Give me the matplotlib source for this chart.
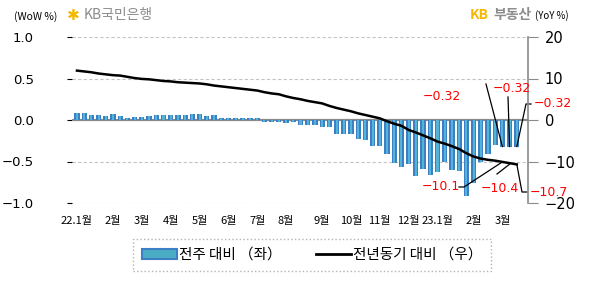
import matplotlib
matplotlib.use("Agg")
import numpy as np
import matplotlib.pyplot as plt
from matplotlib.patches import Patch
from matplotlib.lines import Line2D

plt.rcParams['font.family'] = ['Noto Sans CJK KR', 'DejaVu Sans']
plt.rcParams['axes.unicode_minus'] = True

#%% data
wow = [0.08, 0.09, 0.06, 0.06, 0.05, 0.07, 0.05, 0.03, 0.04, 0.04,
       0.05, 0.06, 0.06, 0.06, 0.06, 0.06, 0.07, 0.07, 0.05, 0.06,
       0.03, 0.03, 0.03, 0.02, 0.02, 0.03, -0.02, -0.02, -0.03, -0.04,
       -0.02, -0.06, -0.06, -0.06, -0.08, -0.08, -0.17, -0.17, -0.17, -0.23,
       -0.24, -0.31, -0.31, -0.41, -0.52, -0.57, -0.53, -0.68, -0.59, -0.66,
       -0.63, -0.51, -0.60, -0.61, -0.91, -0.76, -0.51, -0.41, -0.30, -0.32,
       -0.32, -0.32]
yoy = [11.9, 11.7, 11.5, 11.2, 11.0, 10.8, 10.7, 10.4, 10.1, 9.9,
       9.8, 9.6, 9.4, 9.3, 9.1, 9.0, 8.9, 8.8, 8.6, 8.3,
       8.1, 7.9, 7.7, 7.5, 7.3, 7.1, 6.7, 6.4, 6.2, 5.7,
       5.3, 5.0, 4.6, 4.3, 4.0, 3.4, 2.9, 2.5, 2.1, 1.6,
       1.2, 0.8, 0.4, -0.3, -0.9, -1.4, -2.4, -3.0, -3.7, -4.4,
       -5.2, -5.7, -6.3, -7.0, -8.0, -8.8, -9.3, -9.6, -9.8, -10.1,
       -10.4, -10.7]
tick_pos = [0, 5, 9, 13, 17, 21, 25, 29, 34, 38, 42, 46, 50, 55, 59]
tick_labels = ['22.1월', '2월', '3월', '4월', '5월', '6월', '7월', '8월',
               '9월', '10월', '11월', '12월', '23.1월', '2월', '3월']
left_ticks = [-1.0, -0.5, 0.0, 0.5, 1.0]
right_ticks = [-20, -10, 0, 10, 20]

W, H = 605, 281
num_font = ['DejaVu Sans']

def px(xp, yp, axis):
    # figure pixel (top-left origin) -> data coords of given axis
    return axis.transData.inverted().transform((xp, H - yp))

#%% figure
fig = plt.figure(figsize=(W / 100, H / 100), dpi=100)
ax = fig.add_axes([72 / W, 1 - 203 / H, 456 / W, 166 / H])
x = np.arange(len(wow))

ax.bar(x, wow, width=0.72, color='#3d7fc4', zorder=3)
ax.bar(x, wow, width=0.28, color='#52b4d8', zorder=4)
ax.set_xlim(-0.69, 62.55)
ax.set_ylim(-1, 1)
for v in [-1, -0.5, 0.5, 1]:
    ax.axhline(v, color='#c4c4c4', lw=0.8, ls=(0, (3, 2)), zorder=1)
ax.axhline(0, color='#8a8a8a', lw=1.6, zorder=2)

ax.set_yticks(left_ticks)
ax.set_yticklabels(['%.1f' % v if v >= 0 else '−%.1f' % -v for v in left_ticks],
                   family=num_font)
ax.set_xticks(tick_pos)
ax.set_xticklabels(tick_labels)
ax.tick_params(axis='y', left=False, labelsize=9.5, pad=24)
ax.tick_params(axis='x', bottom=False, labelsize=8, pad=6)
for s in ax.spines.values():
    s.set_visible(False)

ax2 = ax.twinx()
ax2.plot(x, yoy, color='black', lw=1.8, zorder=5)
ax2.set_ylim(-20, 20)
ax2.set_yticks(right_ticks)
ax2.set_yticklabels([str(v) if v >= 0 else '−%d' % -v for v in right_ticks],
                    family=num_font)
ax2.tick_params(axis='y', direction='out', length=7, color='#8a8a8a',
                labelsize=10.5, pad=5)
for k, s in ax2.spines.items():
    s.set_visible(k == 'right')
ax2.spines['right'].set_color('#8a8a8a')
ax2.spines['right'].set_linewidth(1.2)

#%% red annotations
red = '#ff0000'
fs = 9
def txt(xp, yp, s, ha='center'):
    fig.text(xp / W, 1 - yp / H, s, color=red, fontsize=fs, ha=ha, va='center',
             family=num_font)

def seg(points):
    pts = np.array([px(a, b, ax) for a, b in points])
    ax.plot(pts[:, 0], pts[:, 1], color='black', lw=0.9, clip_on=False, zorder=6)

n = len(wow)
txt(442, 96, '−0.32')
txt(512, 88, '−0.32')
txt(534, 104, '−0.32', ha='left')
bx = [ax.transData.transform((i, wow[i])) for i in (n - 3, n - 2, n - 1)]
seg([(486, 84), (bx[0][0], H - bx[0][1])])
seg([(508, 97), (bx[1][0], H - bx[1][1])])
seg([(531, 104), (526, 104), (bx[2][0], H - bx[2][1])])

txt(441, 187, '−10.1')
txt(500, 188, '−10.4')
txt(530, 192, '−10.7', ha='left')
lx = [ax2.transData.transform((i, yoy[i])) for i in (n - 3, n - 2, n - 1)]
seg([(459, 187), (464, 187), (lx[0][0], H - lx[0][1])])
seg([(497, 174), (lx[1][0], H - lx[1][1] + 1)])
seg([(lx[2][0], H - lx[2][1]), (522, 192), (527, 192)])

#%% header
fig.text(14 / W, 1 - 17 / H, '(WoW %)', fontsize=7.5, va='center')
fig.text(67 / W, 1 - 15 / H, '✱', fontsize=11, color='#f5b800', va='center',
         family=['DejaVu Sans'])
fig.text(84 / W, 1 - 15 / H, 'KB국민은행', fontsize=10, color='#8c8c8c', va='center')
fig.text(470 / W, 1 - 15 / H, 'KB', fontsize=10, color='#f5b800',
         fontweight='bold', va='center')
fig.text(493 / W, 1 - 15 / H, '부동산', fontsize=10, color='#8c8c8c',
         fontweight='bold', va='center')
fig.text(535 / W, 1 - 16 / H, '(YoY %)', fontsize=7, va='center')

#%% legend
handles = [Patch(facecolor='#4bacc6', edgecolor='#3d7fc4', lw=1.5),
           Line2D([], [], color='black', lw=2)]
leg = fig.legend(handles, ['전주 대비 （좌）', '전년동기 대비 （우）'],
                 loc='center', bbox_to_anchor=(312 / W, 1 - 255 / H),
                 ncol=2, fontsize=10.5, frameon=True, fancybox=False,
                 handlelength=2.4, handletextpad=0.1, columnspacing=2.4,
                 borderpad=0.6, borderaxespad=0)
leg.get_frame().set_edgecolor('#a0a0a0')
leg.get_frame().set_linestyle(':')
leg.get_frame().set_linewidth(1.0)

fig.savefig('out.png', dpi=100)
